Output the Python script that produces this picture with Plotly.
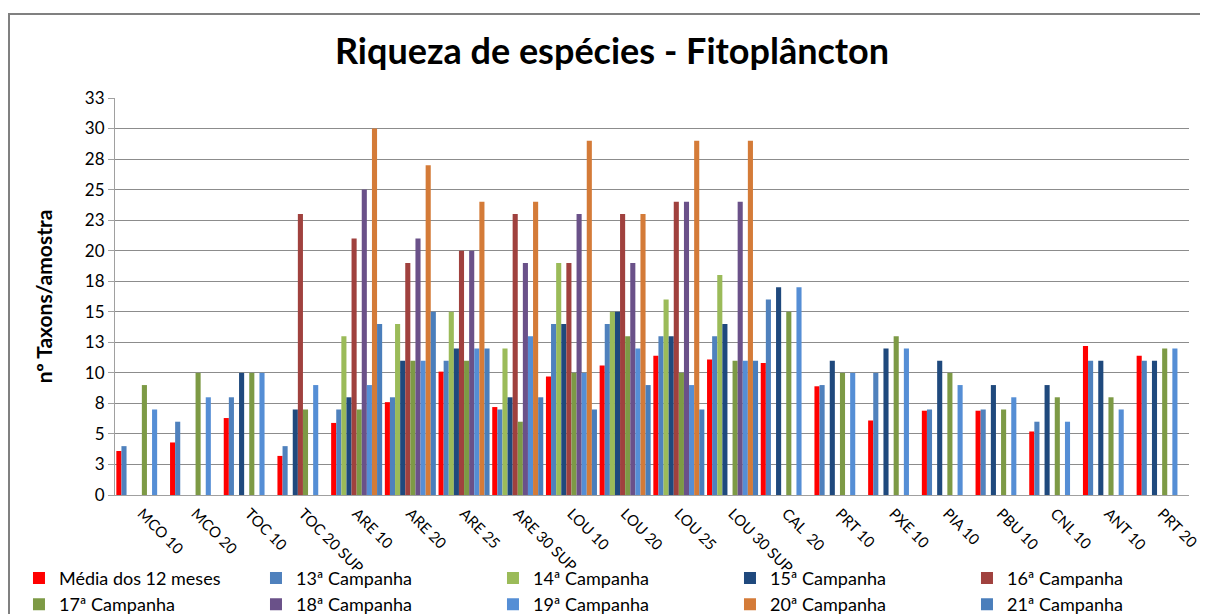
import plotly.graph_objects as go

# Pontos de amostragem
categorias = ['MCO 10', 'MCO 20', 'TOC 10', 'TOC 20 SUP', 'ARE 10', 'ARE 20', 'ARE 25',
              'ARE 30 SUP', 'LOU 10', 'LOU 20', 'LOU 25', 'LOU 30 SUP', 'CAL  20',
              'PRT 10', 'PXE 10', 'PIA 10', 'PBU 10', 'CNL 10', 'ANT 10', 'PRT 20']

# Valores (None = sem barra)
media_12 = [3.6, 4.3, 6.3, 3.2, 5.9, 7.6, 10.1, 7.2, 9.7, 10.6, 11.4, 11.1, 10.8, 8.9, 6.1, 6.9, 6.9, 5.2, 12.2, 11.4]
camp_13 = [4, 6, 8, 4, 7, 8, 11, 7, 14, 14, 13, 13, 16, 9, 10, 7, 7, 6, 11, 11]
camp_14 = [None, None, None, None, 13, 14, 15, 12, 19, 15, 16, 18, None, None, None, None, None, None, None, None]
camp_15 = [None, None, 10, 7, 8, 11, 12, 8, 14, 15, 13, 14, 17, 11, 12, 11, 9, 9, 11, 11]
camp_16 = [None, None, None, 23, 21, 19, 20, 23, 19, 23, 24, None, None, None, None, None, None, None, None, None]
camp_17 = [9, 10, 10, 7, 7, 11, 11, 6, 10, 13, 10, 11, 15, 10, 13, 10, 7, 8, 8, 12]
camp_18 = [None, None, None, None, 25, 21, 20, 19, 23, 19, 24, 24, None, None, None, None, None, None, None, None]
camp_19 = [7, 8, 10, 9, 9, 11, 12, 13, 10, 12, 9, 11, 17, 10, 12, 9, 8, 6, 7, 12]
camp_20 = [None, None, None, None, 30, 27, 24, 24, 29, 23, 29, 29, None, None, None, None, None, None, None, None]
camp_21 = [None, None, None, None, 14, 15, 12, 8, 7, 9, 7, 11, None, None, None, None, None, None, None, None]

series = [
    ('Média dos 12 meses', media_12, '#FF0000'),
    ('13ª Campanha', camp_13, '#4F81BD'),
    ('14ª Campanha', camp_14, '#9BBB59'),
    ('15ª Campanha', camp_15, '#1F497D'),
    ('16ª Campanha', camp_16, '#A0413E'),
    ('17ª Campanha', camp_17, '#7D9A45'),
    ('18ª Campanha', camp_18, '#6A5189'),
    ('19ª Campanha', camp_19, '#558ED5'),
    ('20ª Campanha', camp_20, '#D47B38'),
    ('21ª Campanha', camp_21, '#4A7EBB'),
]

fig = go.Figure()
for nome, valores, cor in series:
    fig.add_trace(go.Bar(x=categorias, y=valores, name=nome, marker_color=cor,
                         marker_line=dict(width=0)))

tick_vals = [0, 2.5, 5, 7.5, 10, 12.5, 15, 17.5, 20, 22.5, 25, 27.5, 30, 32.5]
tick_text = ['0', '3', '5', '8', '10', '13', '15', '18', '20', '23', '25', '28', '30', '33']

# a pagina tem margem de 8px no body, por isso as margens estao descontadas
fig.update_layout(
    width=1208, height=614,
    margin=dict(l=107, r=27, t=90, b=127, autoexpand=False),
    paper_bgcolor='white', plot_bgcolor='white',
    font=dict(family='Lato, Open Sans, sans-serif', size=15, color='black'),
    title=dict(text='<b>Riqueza de espécies - Fitoplâncton</b>', x=0.5, xanchor='center',
               y=0.93, yanchor='middle', font=dict(size=36)),
    barmode='group', bargap=0.05, bargroupgap=0,
    showlegend=True,
    legend=dict(orientation='h', x=-0.0894, xanchor='left', y=-0.163, yanchor='top',
                entrywidth=192, entrywidthmode='pixels', font=dict(size=18),
                bgcolor='rgba(0,0,0,0)', itemwidth=30, tracegroupgap=0),
)
fig.update_xaxes(tickangle=45, showgrid=False, showline=True, linecolor='#A0A0A0',
                 ticks='outside', ticklen=3, tickcolor='rgba(0,0,0,0)',
                 tickfont=dict(size=15), automargin=False)
fig.update_yaxes(range=[0, 32.5], tickvals=tick_vals, ticktext=tick_text,
                 showgrid=True, gridcolor='#8C8C8C', gridwidth=1,
                 showline=True, linecolor='#A0A0A0', ticks='outside', ticklen=6,
                 tickcolor='#A0A0A0', tickfont=dict(size=17), automargin=False,
                 title=dict(text='<b>nº Taxons/amostra</b>', font=dict(size=21), standoff=26),
                 zeroline=False)

# moldura do grafico
fig.add_shape(type='rect', xref='paper', yref='paper', x0=-0.0987, x1=1.0158, y0=-0.35, y1=1.2116,
              line=dict(color='#808080', width=2), fillcolor='rgba(0,0,0,0)', layer='below')

fig.write_html('out.html')
